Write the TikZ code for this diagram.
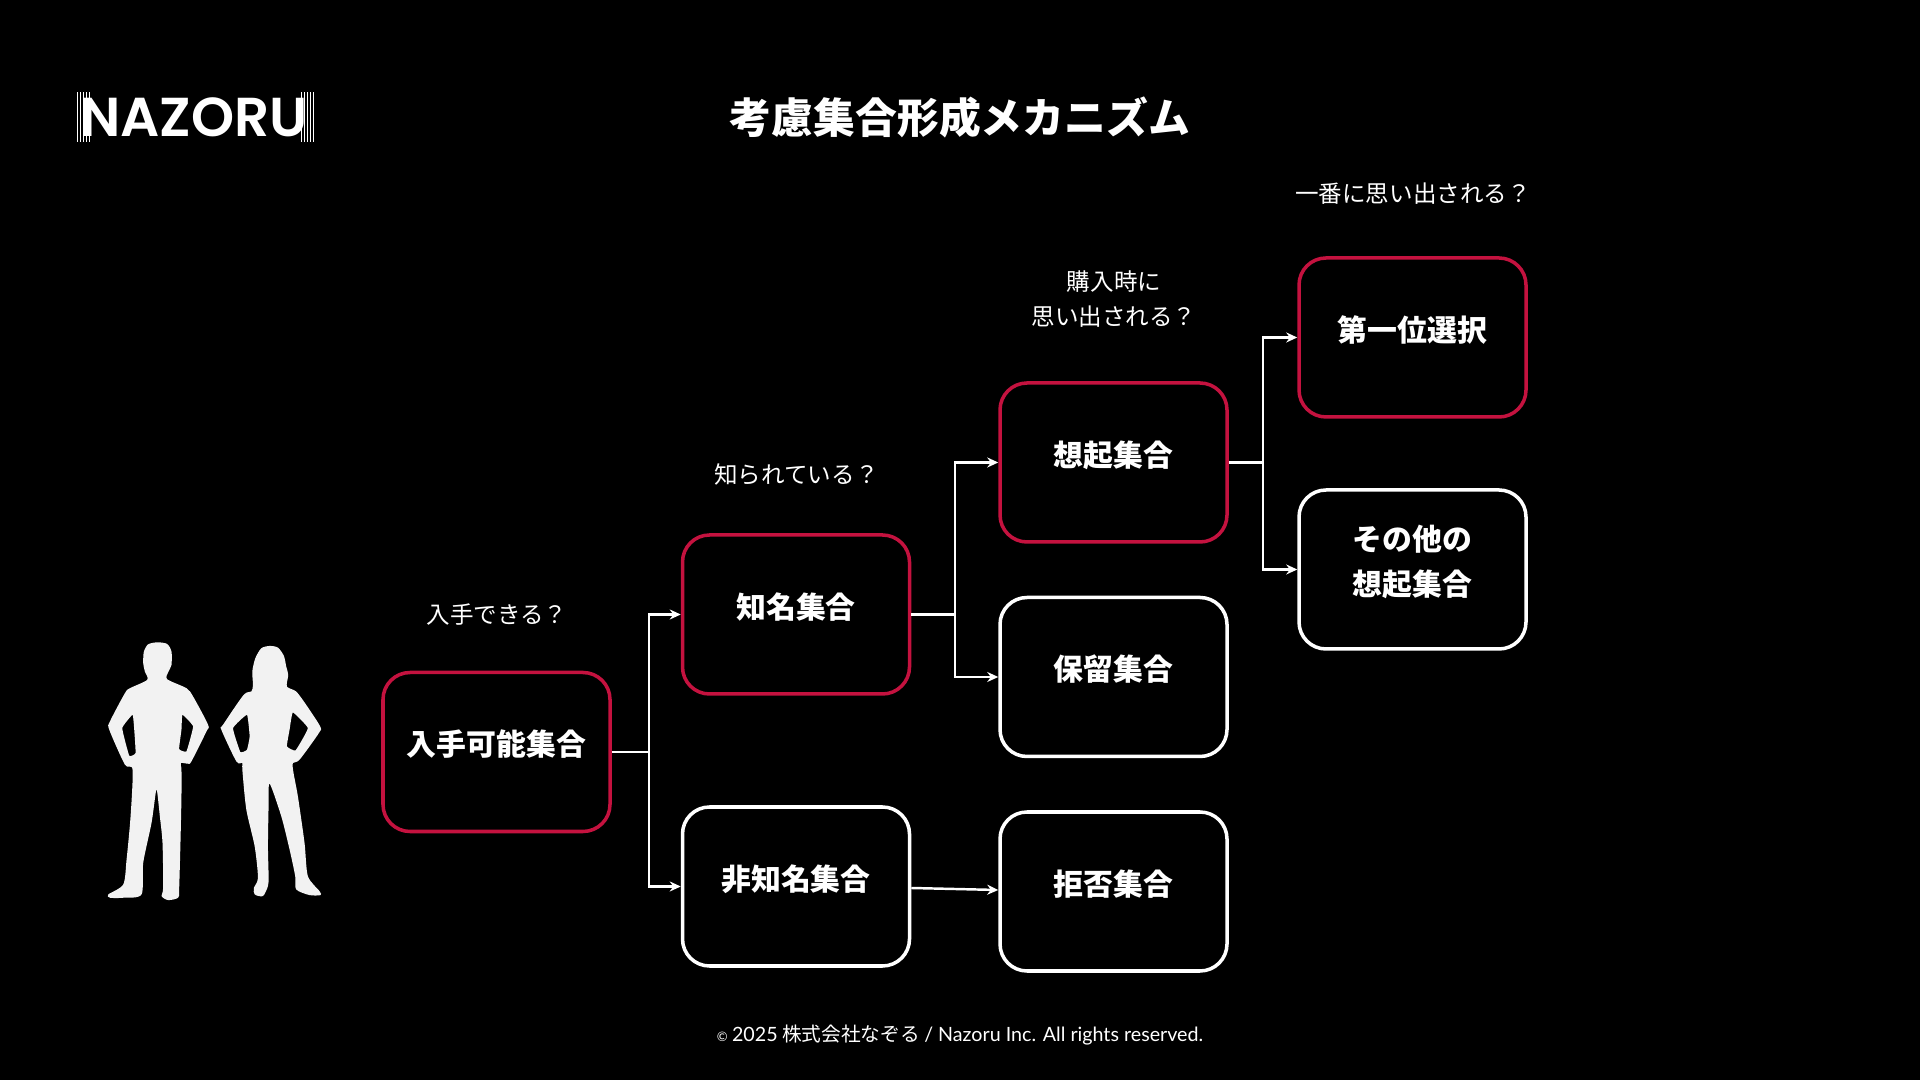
\documentclass[tikz,border=0pt]{standalone}
\usepackage{fontspec}
\setmainfont{Noto Sans CJK JP}
\newfontfamily\logofont{Poppins SemiBold}
\newfontfamily\footfont{Lato}
\usetikzlibrary{arrows.meta}
\definecolor{crimson}{HTML}{C4123F}
\definecolor{bodywhite}{HTML}{F2F2F2}
\tikzset{
    setbox/.style={draw=white, line width=1pt, rounded corners=0.27cm, minimum width=2.27cm, minimum height=1.59cm},
    keptbox/.style={setbox, draw=crimson},
    boxtext/.style={font=\fontsize{8.5pt}{13pt}\selectfont\bfseries, text=white, align=center, yshift=0.075cm},
    asktext/.style={font=\fontsize{6.7pt}{10pt}\selectfont, text=white, align=center},
    wire/.style={draw=white, line width=0.7pt},
    arrow/.style={wire, -{Stealth[length=0.11cm, width=0.1cm]}},
    figure/.style={fill=bodywhite, even odd rule},
    logobar/.style={draw=white, line width=0.2pt}
}
\begin{document}
\begin{tikzpicture}
    \useasboundingbox[fill=black] (0,0) rectangle (19.2,10.8);

    \node[font=\fontsize{11.9pt}{14pt}\selectfont\bfseries, text=white] (title) at (9.6,9.63) {考慮集合形成メカニズム};
    \node[font=\logofont\fontsize{15.6pt}{18pt}\selectfont, text=white] (logo) at (1.94,9.63) {NAZORU};
    \foreach \x in {0.77,0.80,0.83,0.86,0.89} {
        \draw[logobar] (\x,9.38) -- (\x,9.88);
    }
    \foreach \x in {3.01,3.04,3.07,3.10,3.13} {
        \draw[logobar] (\x,9.38) -- (\x,9.88);
    }

    \node[keptbox] (avail) at (4.965,3.28) {};
    \node[keptbox] (known) at (7.96,4.655) {};
    \node[setbox] (unknown) at (7.96,1.935) {};
    \node[keptbox] (evoked) at (11.135,6.175) {};
    \node[setbox] (hold) at (11.135,4.03) {};
    \node[setbox] (reject) at (11.135,1.885) {};
    \node[keptbox] (first) at (14.125,7.425) {};
    \node[setbox] (other) at (14.125,5.105) {};

    \node[boxtext] (availtext) at (avail) {入手可能集合};
    \node[boxtext] (knowntext) at (known) {知名集合};
    \node[boxtext] (unknowntext) at (unknown) {非知名集合};
    \node[boxtext] (evokedtext) at (evoked) {想起集合};
    \node[boxtext] (holdtext) at (hold) {保留集合};
    \node[boxtext] (rejecttext) at (reject) {拒否集合};
    \node[boxtext] (firsttext) at (first) {第一位選択};
    \node[boxtext] (othertext) at (other) {その他の\\想起集合};

    \node[asktext] (askavail) at (4.97,4.65) {入手できる？};
    \node[asktext] (askknown) at (7.965,6.05) {知られている？};
    \node[asktext] (askevoked) at (11.14,7.81) {購入時に\\思い出される？};
    \node[asktext] (askfirst) at (14.13,8.86) {一番に思い出される？};

    \coordinate (forkA) at (6.49,3.28);
    \coordinate (forkB) at (9.55,4.655);
    \coordinate (forkC) at (12.63,6.175);

    \draw[wire] (avail.east) -- (forkA);
    \draw[arrow] (forkA) |- (known.west);
    \draw[arrow] (forkA) |- (unknown.west);
    \draw[wire] (known.east) -- (forkB);
    \draw[arrow] (forkB) |- (evoked.west);
    \draw[arrow] (forkB) |- (hold.west);
    \draw[arrow] ([yshift=-0.015cm]unknown.east) -- ([yshift=0.015cm]reject.west);
    \draw[wire] (evoked.east) -- (forkC);
    \draw[arrow] (forkC) |- (first.west);
    \draw[arrow] (forkC) |- (other.west);

    \begin{scope}[shift={(0.9,4.5)}, x=0.003333cm, y=-0.003333cm]
        \fill[figure] plot[smooth cycle, tension=0.45] coordinates {(203,37) (232,42) (245,65) (245,105) (236,125) (232,148) (290,175) (310,200) (355,285) (350,305) (305,395) (295,402) (273,400) (275,420) (275,500) (272,640) (268,780) (265,805) (235,812) (215,800) (220,775) (218,640) (210,560) (202,487) (198,487) (185,580) (160,700) (155,795) (100,805) (60,805) (55,795) (100,765) (110,690) (122,560) (128,420) (105,405) (58,300) (60,275) (105,190) (120,175) (172,150) (165,125) (160,100) (162,65) (175,43)}
            plot[smooth cycle, tension=0.2] coordinates {(128,255) (97,295) (118,378) (137,370) (133,300)}
            plot[smooth cycle, tension=0.2] coordinates {(278,255) (310,290) (290,365) (268,358) (275,300)};
        \fill[figure] plot[smooth cycle, tension=0.45] coordinates {(540,48) (565,53) (583,78) (590,110) (596,135) (592,170) (620,185) (650,225) (692,290) (688,310) (630,390) (610,400) (612,430) (625,500) (645,640) (655,740) (690,785) (693,797) (660,797) (620,780) (617,740) (600,660) (575,560) (540,462) (537,530) (535,650) (537,740) (535,770) (520,800) (495,795) (493,775) (505,745) (495,650) (470,540) (458,420) (458,400) (440,395) (395,300) (400,285) (462,195) (485,185) (490,165) (488,125) (497,85) (515,55)}
            plot[smooth cycle, tension=0.2] coordinates {(472,255) (430,295) (452,367) (472,360) (480,320)}
            plot[smooth cycle, tension=0.2] coordinates {(610,248) (655,295) (618,362) (592,350) (600,300)};
    \end{scope}

    \node[font=\fontsize{5.6pt}{7pt}\selectfont, text=white] (footer) at (9.6,0.45) {{\footfont\fontsize{3.7pt}{7pt}\selectfont ©} {\footfont 2025} 株式会社なぞる {\footfont / Nazoru Inc. All rights reserved.}};
\end{tikzpicture}
\end{document}
